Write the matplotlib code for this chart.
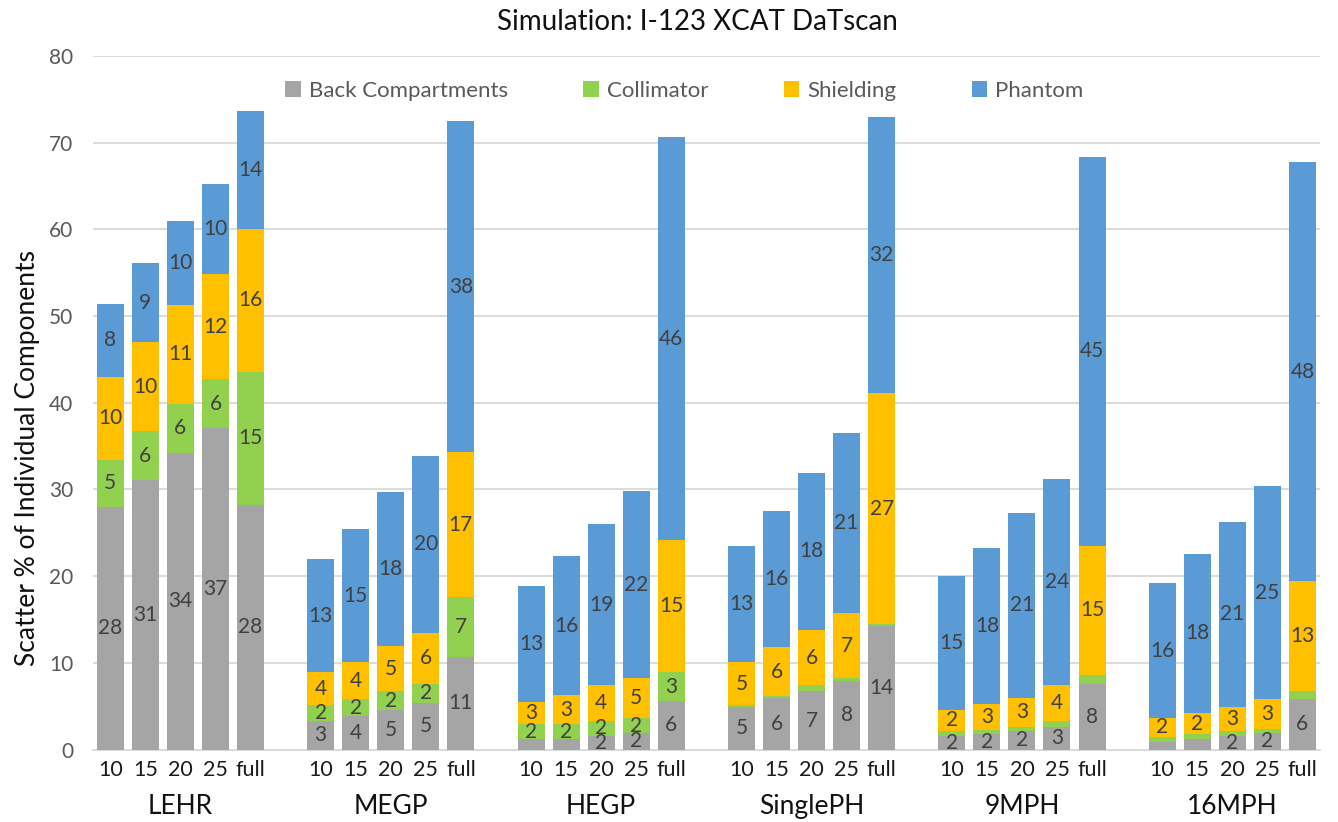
import numpy as np
import matplotlib
matplotlib.use("Agg")
import matplotlib.pyplot as plt
from matplotlib.patches import Patch
from matplotlib.transforms import blended_transform_factory, offset_copy

# Collimator groups and the acquisition settings within each group
groups = ["LEHR", "MEGP", "HEGP", "SinglePH", "9MPH", "16MPH"]
settings = ["10", "15", "20", "25", "full"]

# Scatter contribution (%) of each component, group by group
back_compartments = [28.0, 31.1, 34.2, 37.1, 28.2,
                     3.3, 3.9, 4.6, 5.4, 10.7,
                     1.2, 1.2, 1.6, 1.9, 5.6,
                     4.9, 5.9, 6.7, 7.9, 14.2,
                     1.6, 1.8, 2.1, 2.6, 7.6,
                     0.9, 1.2, 1.6, 1.9, 5.8]
collimator = [5.4, 5.6, 5.7, 5.6, 15.4,
              1.8, 1.9, 2.1, 2.2, 6.9,
              1.7, 1.7, 1.7, 1.7, 3.3,
              0.2, 0.3, 0.7, 0.4, 0.3,
              0.6, 0.5, 0.5, 0.7, 1.0,
              0.6, 0.6, 0.5, 0.5, 0.9]
shielding = [9.6, 10.3, 11.4, 12.1, 16.4,
             3.8, 4.3, 5.3, 5.9, 16.7,
             2.6, 3.4, 4.1, 4.6, 15.3,
             5.0, 5.6, 6.4, 7.4, 26.6,
             2.4, 2.9, 3.4, 4.1, 14.9,
             2.1, 2.4, 2.8, 3.4, 12.7]
phantom = [8.4, 9.1, 9.7, 10.4, 13.7,
           13.1, 15.3, 17.7, 20.4, 38.2,
           13.4, 16.0, 18.6, 21.6, 46.4,
           13.4, 15.7, 18.1, 20.8, 31.9,
           15.4, 18.0, 21.3, 23.8, 44.9,
           15.6, 18.4, 21.4, 24.6, 48.4]

series_names = ["Back Compartments", "Collimator", "Shielding", "Phantom"]
series_colors = ["#A5A5A5", "#92D050", "#FFC000", "#5B9BD5"]
series_values = [back_compartments, collimator, shielding, phantom]

FONT = "Lato"
plt.rcParams["font.family"] = [FONT, "DejaVu Sans"]

fig = plt.figure(figsize=(13.38, 8.22), dpi=100)
ax = fig.add_axes([0.0693, 0.0881, 0.9172, 0.8438])

# one empty slot between consecutive groups
n_set = len(settings)
x = np.array([g * (n_set + 1) + i for g in range(len(groups)) for i in range(n_set)], dtype=float)

bottom = np.zeros(len(x))
for name, color, vals in zip(series_names, series_colors, series_values):
    vals = np.asarray(vals)
    ax.bar(x, vals, bottom=bottom, width=0.77, color=color, label=name, zorder=3)
    for xi, b, v in zip(x, bottom, vals):
        if v >= 1.5:
            ax.text(xi, b + v / 2, f"{v:.0f}", ha="center", va="center",
                    fontsize=15, color="#404040", zorder=4)
    bottom += vals

ax.set_xlim(-0.5, x[-1] + 0.5)
ax.set_ylim(0, 80)
ax.set_yticks(np.arange(0, 81, 10))
ax.yaxis.grid(True, color="#D9D9D9", linewidth=1.3, zorder=0)
ax.set_axisbelow(True)
for side in ["top", "right", "left"]:
    ax.spines[side].set_visible(False)
ax.spines["bottom"].set_color("#D9D9D9")
ax.spines["bottom"].set_linewidth(1.3)
ax.tick_params(axis="y", length=0, labelsize=15, labelcolor="#595959", pad=14)
ax.set_xticks([])

# two-level category labels below the axis
trans = blended_transform_factory(ax.transData, ax.transAxes)
tick_trans = offset_copy(trans, fig=fig, y=-20, units="dots")
group_trans = offset_copy(trans, fig=fig, y=-57, units="dots")
for xi, s in zip(x, settings * len(groups)):
    ax.text(xi, 0, s, transform=tick_trans, ha="center", va="center",
            fontsize=15.5, color="#1a1a1a")
for g, name in enumerate(groups):
    xc = g * (n_set + 1) + (n_set - 1) / 2
    ax.text(xc, 0, name, transform=group_trans, ha="center", va="center",
            fontsize=19, color="#111111")

fig.text(28 / 1338, 1 - 458 / 822, "Scatter % of Individual Components",
         rotation=90, ha="center", va="center", fontsize=19, color="#111111")
fig.text(697 / 1338, 1 - 22 / 822, "Simulation: I-123 XCAT DaTscan",
         ha="center", va="center", fontsize=20, color="#111111")

handles = [Patch(facecolor=c, label=n) for n, c in zip(series_names, series_colors)]
leg = ax.legend(handles=handles, ncol=4, loc="center", bbox_to_anchor=(0.482, 0.95),
                frameon=False, fontsize=16, handlelength=0.7, handleheight=0.7,
                handletextpad=0.35, columnspacing=3.4, labelcolor="#595959")

fig.savefig("out.png", dpi=100, facecolor="white")
